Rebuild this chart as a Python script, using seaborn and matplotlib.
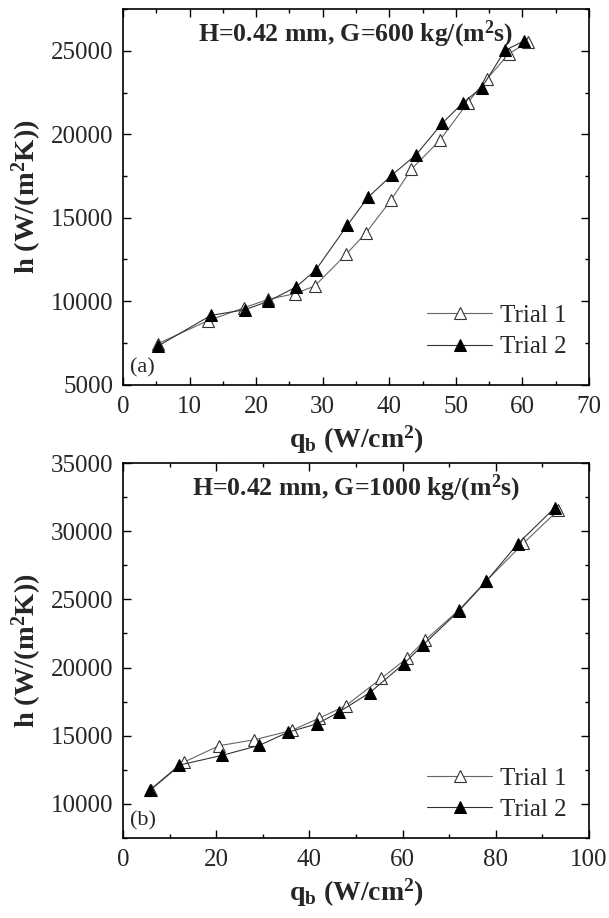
import matplotlib
matplotlib.use('Agg')
import matplotlib.pyplot as plt
import seaborn as sns
import pandas as pd
from matplotlib.ticker import MultipleLocator

# panel (a): H=0.42 mm, G=600
qa_t1 = [5.2, 12.7, 18.2, 21.8, 25.8, 28.8, 33.5, 36.5, 40.3, 43.3, 47.6, 51.8, 54.7, 58.0, 60.9]
ha_t1 = [7450, 8820, 9610, 10110, 10450, 10910, 12800, 14090, 16080, 17900, 19640, 21900, 23330, 24830, 25550]
qa_t2 = [5.2, 13.2, 18.3, 21.8, 26.0, 29.0, 33.7, 36.8, 40.4, 44.0, 48.0, 51.1, 53.9, 57.4, 60.2]
ha_t2 = [7300, 9150, 9490, 9990, 10850, 11890, 14550, 16220, 17560, 18760, 20680, 21900, 22800, 25030, 25590]

# panel (b): H=0.42 mm, G=1000
qb_t1 = [6.0, 13.1, 20.6, 28.2, 36.2, 42.1, 47.8, 55.4, 60.9, 64.8, 72.1, 78.0, 85.9, 93.4]
hb_t1 = [11050, 13070, 14270, 14710, 15390, 16290, 17200, 19200, 20680, 22000, 24220, 26370, 29100, 31540]
qb_t2 = [5.7, 12.1, 21.2, 29.2, 35.5, 41.7, 46.3, 53.0, 60.3, 64.3, 72.1, 78.0, 84.7, 92.7]
hb_t2 = [11000, 12850, 13560, 14290, 15270, 15880, 16730, 18170, 20290, 21630, 24150, 26340, 29070, 31730]

sns.set_theme(style='ticks')
plt.rcParams['font.family'] = ['Liberation Serif', 'DejaVu Serif']
plt.rcParams['mathtext.fontset'] = 'custom'
plt.rcParams['mathtext.rm'] = 'Liberation Serif:bold'
plt.rcParams['mathtext.bf'] = 'Liberation Serif:bold'
plt.rcParams['mathtext.it'] = 'Liberation Serif:bold'
plt.rcParams['mathtext.default'] = 'bf'


def make_df(q1, h1, q2, h2):
    return pd.concat([
        pd.DataFrame({'q': q1, 'h': h1, 'trial': 'Trial 1'}),
        pd.DataFrame({'q': q2, 'h': h2, 'trial': 'Trial 2'}),
    ])


def draw_panel(ax, df, title, tag, xlim, xmajor, ylim, leg_y):
    sns.lineplot(data=df, x='q', y='h', hue='trial', style='trial',
                 palette={'Trial 1': '#666666', 'Trial 2': '#333333'},
                 markers={'Trial 1': '^', 'Trial 2': '^'}, dashes=False,
                 sort=False, linewidth=0.8, markersize=8.5, ax=ax, legend=False)
    # marker faces: open for trial 1, filled for trial 2
    lines = ax.get_lines()
    lines[0].set_markerfacecolor('white')
    lines[0].set_markeredgecolor('#333333')
    lines[0].set_markeredgewidth(0.8)
    lines[1].set_markerfacecolor('black')
    lines[1].set_markeredgecolor('black')
    ax.set_xlim(*xlim)
    ax.set_ylim(*ylim)
    ax.xaxis.set_major_locator(MultipleLocator(xmajor))
    ax.xaxis.set_minor_locator(MultipleLocator(xmajor / 2))
    ax.yaxis.set_major_locator(MultipleLocator(5000))
    ax.yaxis.set_minor_locator(MultipleLocator(2500))
    ax.tick_params(which='both', direction='in', top=True, right=True,
                   labelsize=18, width=1, color='black')
    ax.tick_params(axis='x', pad=8)
    ax.tick_params(axis='y', pad=7)
    ax.tick_params(which='major', length=6)
    ax.tick_params(which='minor', length=3)
    for sp in ax.spines.values():
        sp.set_linewidth(1.2)
        sp.set_color('black')
    ax.set_xlabel(r'q$_\mathbf{b}$ (W/cm$^\mathbf{2}$)', fontsize=20, fontweight='bold', labelpad=4)
    ax.set_ylabel(r'h (W/(m$^\mathbf{2}$K))', fontsize=20.5, fontweight='bold', labelpad=5)
    ax.text(0.5, 0.975, title, transform=ax.transAxes, ha='center', va='top',
            fontsize=18.5, fontweight='bold')
    ax.text(0.015, 0.02, tag, transform=ax.transAxes, ha='left', va='bottom', fontsize=16)
    handles = ax.get_lines()[:2]
    ax.legend(handles, ['Trial 1', 'Trial 2'], loc='lower right',
              bbox_to_anchor=(1.0, leg_y), frameon=False, fontsize=18,
              handlelength=2.6, handletextpad=0.3, labelspacing=0.35)


fig = plt.figure(figsize=(6.09, 9.18), dpi=100)
ax1 = fig.add_axes([0.202, 0.581, 0.765, 0.409])
ax2 = fig.add_axes([0.202, 0.0871, 0.765, 0.4085])

draw_panel(ax1, make_df(qa_t1, ha_t1, qa_t2, ha_t2),
           r'H=0.42 mm, G=600 kg/(m$^\mathbf{2}$s)', '(a)', (0, 70), 10, (5000, 27500), 0.01)
draw_panel(ax2, make_df(qb_t1, hb_t1, qb_t2, hb_t2),
           r'H=0.42 mm, G=1000 kg/(m$^\mathbf{2}$s)', '(b)', (0, 100), 20, (7500, 35000), -0.015)
ax2.set_yticks([10000, 15000, 20000, 25000, 30000, 35000])

fig.savefig('out.png', dpi=100)
